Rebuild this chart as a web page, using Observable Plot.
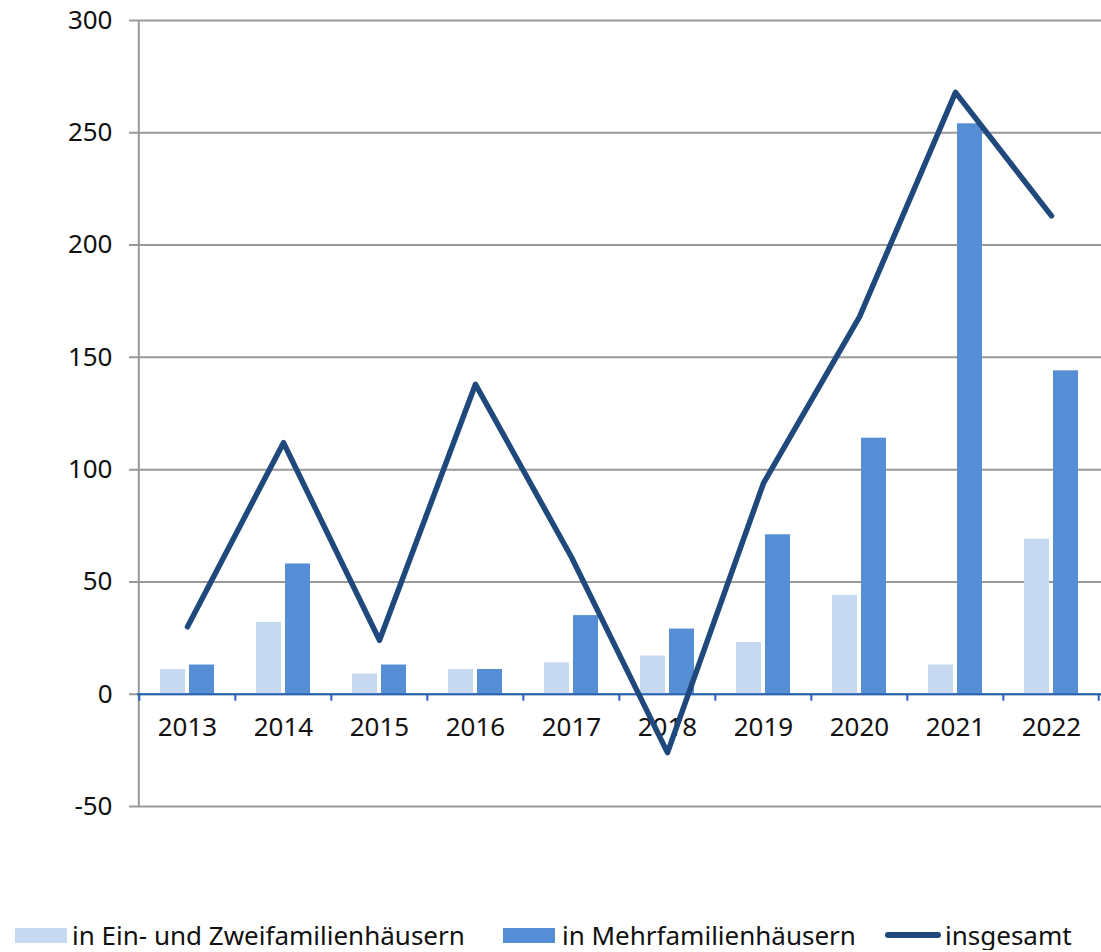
<!DOCTYPE html>
<html>
<head>
<meta charset="utf-8">
<script src="https://cdn.jsdelivr.net/npm/d3@7"></script>
<script src="https://cdn.jsdelivr.net/npm/@observablehq/plot@0.6"></script>
<style>
  body { margin: 0; background: #fff; font-family: "Noto Sans", sans-serif; }
  #wrap { position: relative; width: 1101px; height: 950px; }
  .leg { position: absolute; top: 920px; height: 30px; line-height: 30px; display: flex; align-items: center; font-size: 26px; color: #111; white-space: nowrap; }
  .sw { display: inline-block; }
</style>
</head>
<body>
<div id="wrap">
  <div id="chart"></div>
  <div class="leg" style="left:15px"><span class="sw" style="width:52px;height:15px;background:#c6d9f1;margin-right:5px"></span>in Ein- und Zweifamilienhäusern</div>
  <div class="leg" style="left:503px"><span class="sw" style="width:52px;height:15px;background:#558ed5;margin-right:7px"></span>in Mehrfamilienhäusern</div>
  <div class="leg" style="left:885px"><span class="sw" style="width:56px;height:6px;border-radius:3px;background:#1f497d;margin-right:4px"></span>insgesamt</div>
</div>
<script>
const years = [2013, 2014, 2015, 2016, 2017, 2018, 2019, 2020, 2021, 2022];
const einZwei = [11, 32, 9, 11, 14, 17, 23, 44, 13, 69];
const mehr = [13, 58, 13, 11, 35, 29, 71, 114, 254, 144];
const insgesamt = [30, 112, 24, 138, 61, -26, 94, 168, 268, 213];
const yTicks = [-50, 0, 50, 100, 150, 200, 250, 300];

const data = years.map((y, i) => ({year: y, ein: einZwei[i], mehr: mehr[i], total: insgesamt[i]}));

const W = 1101, ML = 137, MR = 0;
const bw = (W - ML - MR) / years.length;

const chart = Plot.plot({
  width: W,
  height: 850,
  marginLeft: ML,
  marginRight: MR,
  marginTop: 20,
  marginBottom: 44,
  style: {fontFamily: "Noto Sans", fontSize: "26px", color: "#111", background: "#fff"},
  x: {type: "band", domain: years, padding: 0, axis: null},
  y: {domain: [-50, 300], axis: null},
  marks: [
    Plot.ruleY(yTicks, {y: d => d, stroke: "#999", strokeWidth: 2, insetLeft: -8}),
    Plot.ruleX([years[0]], {x: d => d, dx: -bw / 2 - 0.5, stroke: "#999", strokeWidth: 2}),
    Plot.text(yTicks, {y: d => d, frameAnchor: "left", dx: -25, textAnchor: "end", text: d => String(d), fontSize: 26, fill: "#111"}),
    Plot.barY(data, {x: "year", y: "ein", fill: "#c6d9f1", insetLeft: 21, insetRight: 50}),
    Plot.barY(data, {x: "year", y: "mehr", fill: "#558ed5", insetLeft: 50, insetRight: 21}),
    Plot.ruleY([0], {stroke: "#2362b3", strokeWidth: 2}),
    Plot.ruleX(years, {x: d => d, dx: -bw / 2, y1: 0, y2: 0, insetBottom: -7, stroke: "#2362b3", strokeWidth: 2}),
    Plot.ruleX([years[years.length - 1]], {x: d => d, dx: bw / 2 - 1, y1: 0, y2: 0, insetBottom: -7, stroke: "#2362b3", strokeWidth: 2}),
    Plot.text(years, {x: d => d, y: 0, dy: 33, text: d => String(d), fontSize: 26, fill: "#111"}),
    Plot.lineY(data, {x: "year", y: "total", stroke: "#1f497d", strokeWidth: 5.5, strokeLinecap: "round", strokeLinejoin: "round"})
  ]
});
document.getElementById("chart").appendChild(chart);
</script>
</body>
</html>
